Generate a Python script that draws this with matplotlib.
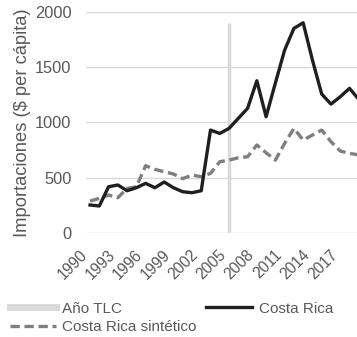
import matplotlib
matplotlib.use("Agg")
import matplotlib.pyplot as plt
from matplotlib.lines import Line2D

plt.rcParams["font.family"] = ["Liberation Sans", "DejaVu Sans"]

years = list(range(1990, 2020))
costa_rica = [253, 244, 418, 434, 382, 409, 449, 409, 461, 409,
              373, 364, 382, 930, 900, 945, 1036, 1126, 1376, 1051,
              1355, 1653, 1849, 1900, 1563, 1256, 1165, 1231, 1307, 1208]
costa_rica_sint = [289, 313, 343, 319, 403, 418, 608, 575, 554, 533,
                   491, 524, 509, 539, 644, 659, 680, 689, 795, 725,
                   659, 810, 945, 840, 885, 930, 825, 741, 720, 705]
tlc_year = 2005
tlc_height = 1895
yticks = [0, 500, 1000, 1500, 2000]
xticks = list(range(1990, 2018, 3))

text_color = "#595959"
grid_color = "#d9d9d9"

fig = plt.figure(figsize=(3.57, 3.37), dpi=100)
ax = fig.add_axes([0.241, 0.3086, 0.759, 0.6567])

for y in yticks:
    ax.axhline(y, color=grid_color, lw=1.0, zorder=0)

ax.vlines(tlc_year, 0, tlc_height, color=grid_color, lw=2.5, zorder=1)
ax.plot(years, costa_rica_sint, color="#7f7f7f", lw=2.4,
        dashes=(2.8, 1.4), zorder=2)
ax.plot(years, costa_rica, color="#1f1f1f", lw=2.4, zorder=3)

ax.set_xlim(1989.57, 2018.81)
ax.set_ylim(0, 2000)
ax.set_yticks(yticks)
ax.set_xticks(xticks)
ax.set_xticklabels([str(x) for x in xticks], rotation=45, ha="right",
                   fontsize=11.2, color=text_color)
ax.set_yticklabels([str(y) for y in yticks], fontsize=11.8, color=text_color)
ax.tick_params(axis="both", length=0, pad=10.5)
for s in ax.spines.values():
    s.set_visible(False)

ax.set_ylabel("Importaciones ($ per cápita)", fontsize=13.2,
              color=text_color, labelpad=3)

handles = [
    Line2D([], [], color=grid_color, lw=5),
    Line2D([], [], color="#7f7f7f", lw=2.4, dashes=(2.8, 1.4)),
    Line2D([], [], color="#1f1f1f", lw=2.4),
]
labels = ["Año TLC", "Costa Rica sintético", "Costa Rica"]
leg = fig.legend(handles, labels, ncol=2, loc="lower left",
                 bbox_to_anchor=(0.01, -0.01), frameon=False,
                 fontsize=11, handlelength=3.0, handletextpad=0.45,
                 columnspacing=0.6, labelspacing=0.3, borderaxespad=0.0)
for t in leg.get_texts():
    t.set_color(text_color)

fig.savefig("out.png", dpi=100)
